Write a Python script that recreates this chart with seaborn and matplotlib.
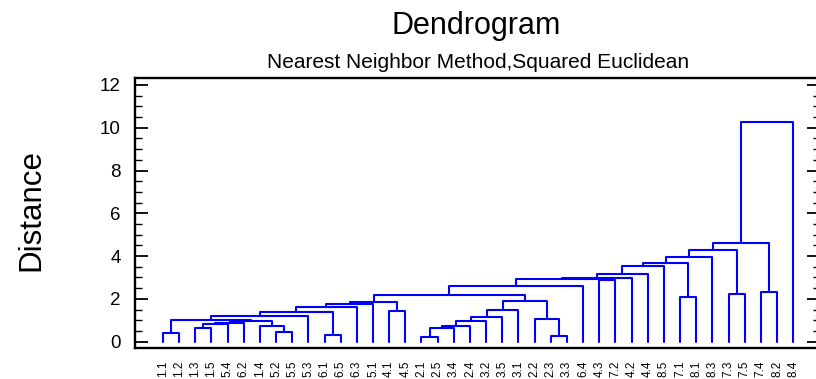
import numpy as np
import pandas as pd
import matplotlib
matplotlib.use("Agg")
import matplotlib.pyplot as plt
from matplotlib.ticker import MultipleLocator
import seaborn as sns

# Leaf labels in dendrogram order
leaf_labels = ["1.1", "1.2", "1.3", "1.5", "5.4", "6.2", "1.4", "5.2", "5.5", "5.3",
               "6.1", "6.5", "6.3", "5.1", "4.1", "4.5", "2.1", "2.5", "3.4", "2.4",
               "3.2", "3.5", "3.1", "2.2", "2.3", "3.3", "6.4", "4.3", "7.2", "4.2",
               "4.4", "8.5", "7.1", "8.1", "8.3", "7.3", "7.5", "7.4", "8.2", "8.4"]

# Linkage steps: cluster ids 0..39 are leaves, merge k creates cluster 40 + k
merge_left = [16, 24, 10, 0, 7, 40, 2, 45, 6, 46, 49, 50, 47, 43, 23, 52, 53, 56, 14, 55,
              57, 60, 61, 59, 32, 62, 35, 37, 65, 27, 68, 70, 71, 72, 73, 74, 75, 76, 77]
merge_right = [17, 25, 11, 1, 8, 18, 3, 19, 44, 4, 5, 48, 20, 51, 41, 21, 9, 42, 15, 22,
               12, 13, 58, 54, 33, 63, 36, 38, 26, 28, 69, 29, 30, 31, 64, 34, 66, 67, 39]
merge_height = [0.23, 0.28, 0.31, 0.39, 0.47, 0.63, 0.65, 0.75, 0.75, 0.81, 0.89, 0.95,
                0.97, 1.01, 1.05, 1.17, 1.19, 1.40, 1.45, 1.47, 1.61, 1.76, 1.87, 1.92,
                2.10, 2.18, 2.24, 2.32, 2.62, 2.88, 2.92, 2.98, 3.18, 3.54, 3.69, 3.97,
                4.27, 4.63, 10.26]

n_leaves = len(leaf_labels)
node_x = {i: float(i) for i in range(n_leaves)}
node_y = {i: 0.0 for i in range(n_leaves)}

rows = []
for k, (a, b, h) in enumerate(zip(merge_left, merge_right, merge_height)):
    path = [(node_x[a], node_y[a]), (node_x[a], h), (node_x[b], h), (node_x[b], node_y[b])]
    for order, (px, py) in enumerate(path):
        rows.append({"link": k, "order": order, "x": px, "y": py})
    node_x[n_leaves + k] = (node_x[a] + node_x[b]) / 2.0
    node_y[n_leaves + k] = h
links = pd.DataFrame(rows)

sns.set_style("white")
plt.rcParams["font.family"] = ["Liberation Sans", "DejaVu Sans"]
plt.rcParams["text.color"] = "black"
plt.rcParams["xtick.color"] = "black"
plt.rcParams["ytick.color"] = "black"

fig = plt.figure(figsize=(8.16, 3.79), dpi=100)
ax = fig.add_axes([134.5 / 816, 1 - 348.3 / 379, (820 - 134.5) / 816, (348.3 - 77.7) / 379])

sns.lineplot(data=links, x="x", y="y", units="link", estimator=None, sort=False,
             color="#0000FF", linewidth=1.5, ax=ax, legend=False)

ax.set_xlim(-1.76, 40.66)
ax.set_ylim(-0.31, 12.34)
ax.set_xticks(range(n_leaves))
ax.set_xticklabels(leaf_labels, rotation=90, fontsize=8.5)
ax.yaxis.set_major_locator(MultipleLocator(2))
ax.yaxis.set_minor_locator(MultipleLocator(0.5))
ax.tick_params(axis="y", which="major", direction="in", length=9.5, width=1.3,
               labelsize=13.5, pad=10, left=True, right=True)
ax.tick_params(axis="y", which="minor", direction="in", length=5, width=1.0,
               left=True, right=True)
ax.tick_params(axis="x", length=0, pad=9)
ax.set_xlabel("")
ax.set_ylabel("")
for side in ["left", "right", "top", "bottom"]:
    ax.spines[side].set_visible(True)
    ax.spines[side].set_color("black")
    ax.spines[side].set_linewidth(1.7)

fig.text(476 / 816, 1 - 34 / 379, "Dendrogram", ha="center", va="baseline", fontsize=22)
fig.text(478 / 816, 1 - 68 / 379, "Nearest Neighbor Method,Squared Euclidean",
         ha="center", va="baseline", fontsize=15)
fig.text(31 / 816, 1 - 210 / 379, "Distance", rotation=90, ha="center", va="center",
         fontsize=22.5)

fig.savefig("out.png", dpi=100)
